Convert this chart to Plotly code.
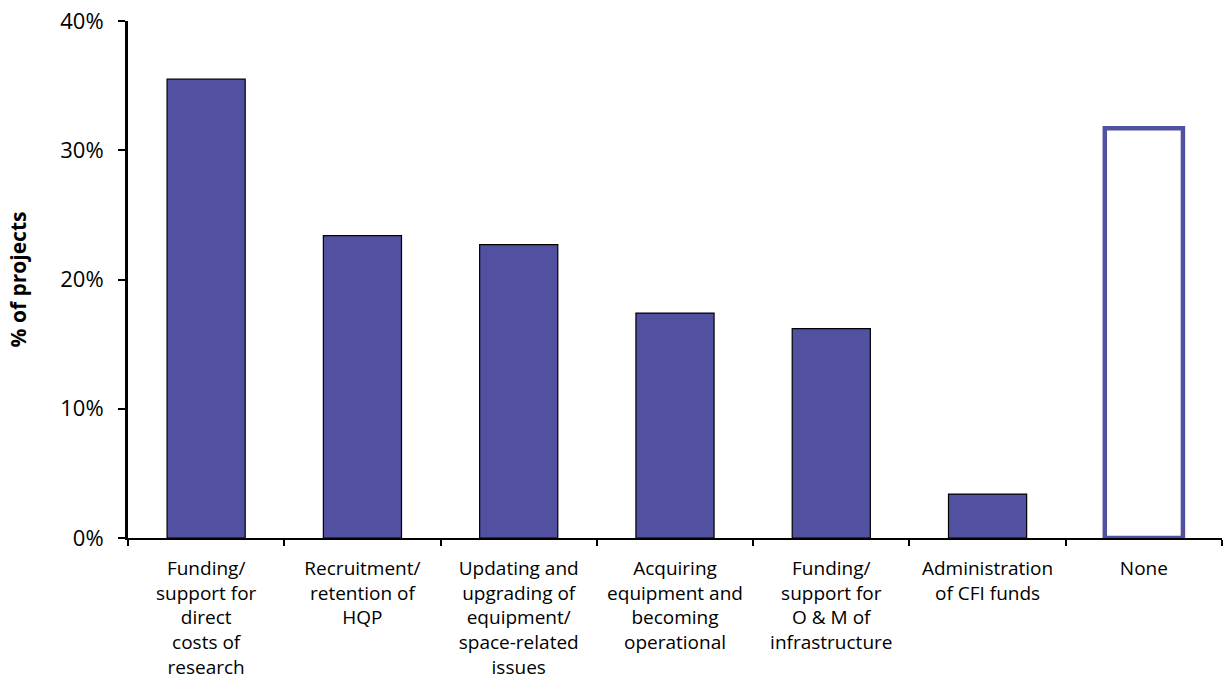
import plotly.graph_objects as go

categories = [
    "Funding/<br>support for<br>direct<br>costs of<br>research",
    "Recruitment/<br>retention of<br>HQP",
    "Updating and<br>upgrading of<br>equipment/<br>space-related<br>issues",
    "Acquiring<br>equipment and<br>becoming<br>operational",
    "Funding/<br>support for<br>O & M of<br>infrastructure",
    "Administration<br>of CFI funds",
    "None",
]
pct_projects = [35.5, 23.4, 22.7, 17.4, 16.2, 3.4, 31.7]

y_tick_vals = [0, 10, 20, 30, 40]
y_tick_text = ["0%", "10%", "20%", "30%", "40%"]

BAR_BLUE = "#5250A1"
fill_colors = [BAR_BLUE] * 6 + ["white"]
line_colors = ["black"] * 6 + [BAR_BLUE]
line_widths = [1.2] * 6 + [4.5]

fig = go.Figure(
    go.Bar(
        x=categories,
        y=pct_projects,
        marker=dict(color=fill_colors, line=dict(color=line_colors, width=line_widths)),
        width=0.5,
        showlegend=False,
        hoverinfo="skip",
    )
)

font_family = "'Open Sans', Lato, sans-serif"

fig.update_layout(
    width=1224,
    height=696,
    margin=dict(l=128, r=2, t=21, b=158),
    paper_bgcolor="white",
    plot_bgcolor="white",
    font=dict(family=font_family, size=18, color="black"),
    bargap=0.5,
)

fig.update_xaxes(
    showline=True,
    linecolor="black",
    linewidth=2,
    ticks="outside",
    tickson="boundaries",
    ticklen=6,
    tickwidth=2,
    tickcolor="black",
    showgrid=False,
    tickfont=dict(size=19),
    ticklabelstandoff=12,
)

fig.update_yaxes(
    range=[0, 40],
    tickvals=y_tick_vals,
    ticktext=y_tick_text,
    showline=True,
    linecolor="black",
    linewidth=3,
    ticks="outside",
    ticklen=7,
    tickwidth=2,
    tickcolor="black",
    showgrid=False,
    zeroline=False,
    tickfont=dict(size=22),
    ticklabelstandoff=10,
    title=dict(text="<b>% of projects</b>", font=dict(size=21), standoff=28),
)

fig.write_html("out.html")
